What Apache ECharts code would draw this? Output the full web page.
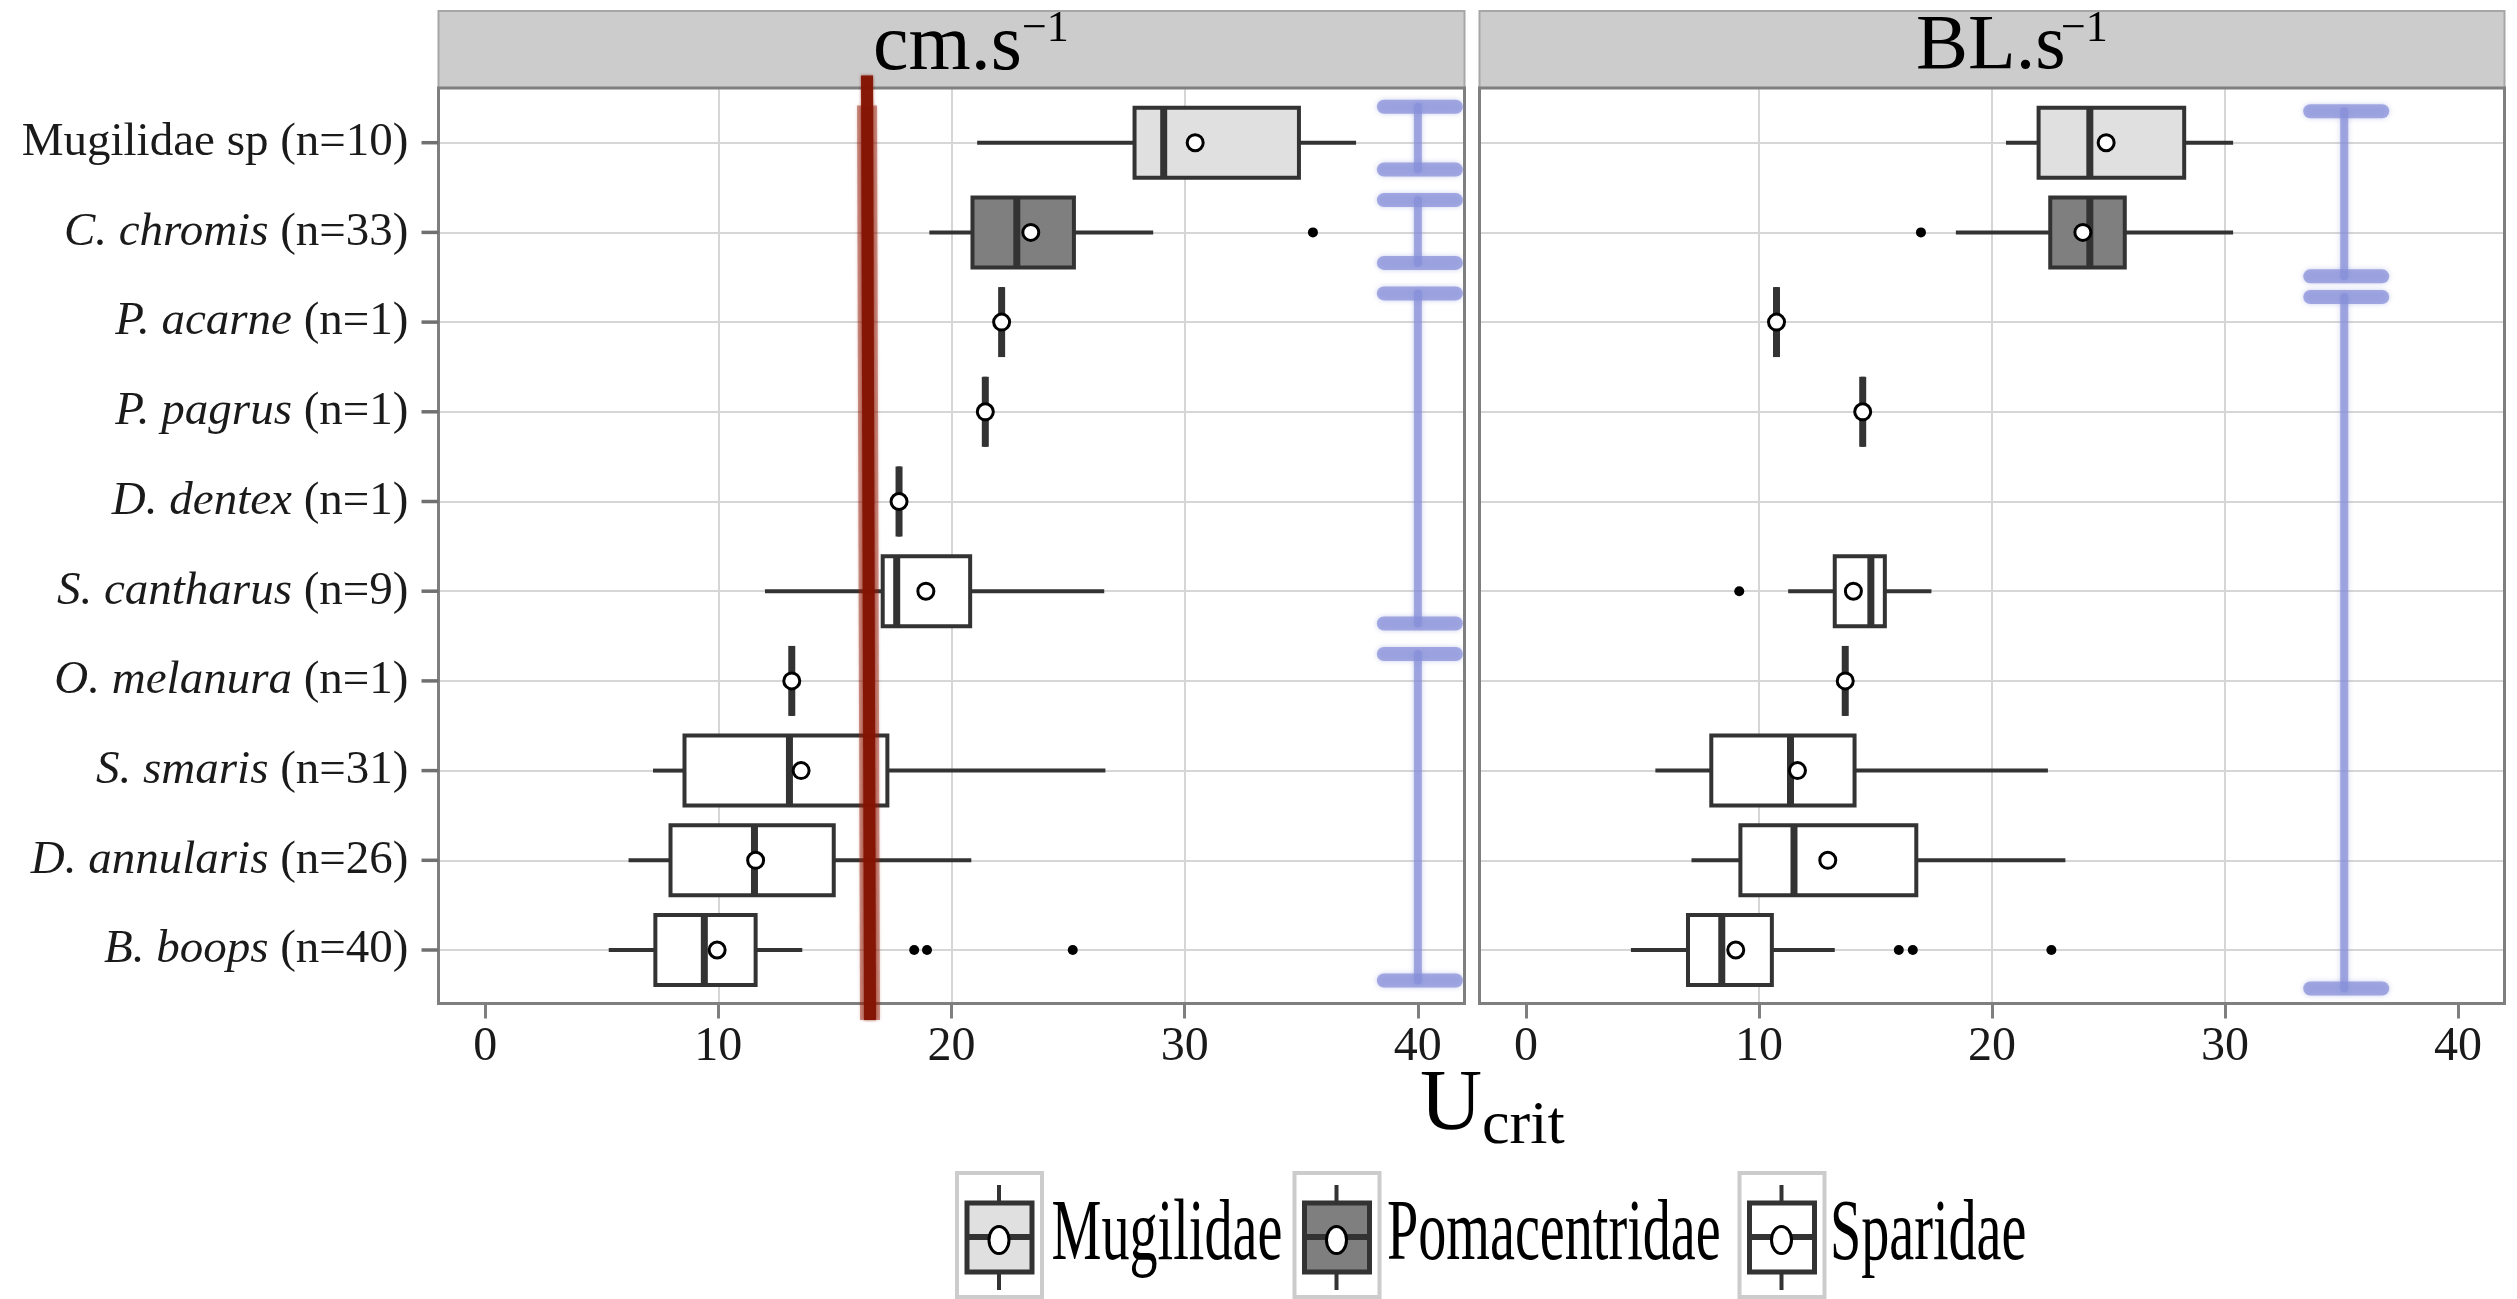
<!DOCTYPE html>
<html>
<head>
<meta charset="utf-8">
<script src="https://cdn.jsdelivr.net/npm/echarts@6/dist/echarts.min.js"></script>
<style>
    html, body { margin: 0; padding: 0; background: #fff; }
    #chart { width: 2517px; height: 1299px; }
</style>
</head>
<body>
<div id="chart"></div>
<script>
    // categories (top to bottom)
    const species = ['Mugilidae sp', 'C. chromis', 'P. acarne', 'P. pagrus', 'D. dentex',
        'S. cantharus', 'O. melanura', 'S. smaris', 'D. annularis', 'B. boops'];
    const sampleN = [10, 33, 1, 1, 1, 9, 1, 31, 26, 40];
    const italicName = [false, true, true, true, true, true, true, true, true, true];
    const familyOf = [0, 1, 2, 2, 2, 2, 2, 2, 2, 2];
    const families = ['Mugilidae', 'Pomacentridae', 'Sparidae'];
    const xTicks = [0, 10, 20, 30, 40];

    // [lower whisker, Q1, median, Q3, upper whisker, mean]
    const statsCm = [
        [21.1, 27.85, 29.1, 34.9, 37.35, 30.45],
        [19.05, 20.9, 22.8, 25.25, 28.65, 23.4],
        [22.15, 22.15, 22.15, 22.15, 22.15, 22.15],
        [21.45, 21.45, 21.45, 21.45, 21.45, 21.45],
        [17.75, 17.75, 17.75, 17.75, 17.75, 17.75],
        [12.0, 17.05, 17.65, 20.8, 26.55, 18.9],
        [13.15, 13.15, 13.15, 13.15, 13.15, 13.15],
        [7.2, 8.55, 13.05, 17.25, 26.6, 13.55],
        [6.15, 7.95, 11.55, 14.95, 20.85, 11.6],
        [5.3, 7.3, 9.4, 11.6, 13.6, 9.95]
    ];
    const statsBL = [
        [20.6, 22.0, 24.2, 28.25, 30.35, 24.9],
        [18.45, 22.5, 24.2, 25.7, 30.35, 23.9],
        [10.75, 10.75, 10.75, 10.75, 10.75, 10.75],
        [14.45, 14.45, 14.45, 14.45, 14.45, 14.45],
        null,
        [11.25, 13.25, 14.8, 15.4, 17.4, 14.05],
        [13.7, 13.7, 13.7, 13.7, 13.7, 13.7],
        [5.55, 7.95, 11.35, 14.1, 22.4, 11.65],
        [7.1, 9.2, 11.5, 16.75, 23.15, 12.95],
        [4.5, 6.95, 8.4, 10.55, 13.25, 9.0]
    ];
    // [value, category index]
    const outliersCm = [[35.5, 1], [18.4, 9], [18.95, 9], [25.2, 9]];
    const outliersBL = [[16.95, 1], [9.15, 5], [16.0, 9], [16.6, 9], [22.55, 9]];

    // reference line: [value, from row, to row]
    const refLineCm = [[16.42, -0.75, 9.78]];
    // homogeneous groups: [value, from row, to row]
    const groupsCm = [[40, -0.4, 0.3], [40, 0.64, 1.34], [40, 1.68, 5.36], [40, 5.7, 9.34]];
    const groupsBL = [[35.12, -0.35, 1.49], [35.12, 1.72, 9.43]];

    const fontSerif = 'Liberation Serif';
    const familyFill = ['#e0e0e0', '#7f7f7f', '#ffffff'];
    const boxLine = '#333333';
    const gridColor = '#d6d6d6';
    const borderColor = '#7f7f7f';
    const xMin = -2, xMax = 42;

    const panels = [
        {left: 438.5, width: 1026},
        {left: 1479.5, width: 1025}
    ];
    const frameTop = 88, frameHeight = 915.5;
    const dataTop = 142.7, dataHeight = 807.3;

    function boxData(stats) {
        const out = [];
        stats.forEach(function (s, i) {
            if (s) out.push([i].concat(s).concat([familyOf[i]]));
        });
        return out;
    }

    function rowGeom(api) {
        const y0 = api.coord([0, 0])[1];
        const step = api.coord([0, 1])[1] - y0;
        return {y0: y0, step: step};
    }

    function renderBox(params, api) {
        const cat = api.value(0);
        const g = rowGeom(api);
        const yc = g.y0 + g.step * cat;
        const h = g.step * 0.39;
        const X = function (v) { return api.coord([v, cat])[0]; };
        const lo = X(api.value(1)), q1 = X(api.value(2)), md = X(api.value(3));
        const q3 = X(api.value(4)), hi = X(api.value(5)), mn = X(api.value(6));
        const fill = familyFill[api.value(7)];
        return {
            type: 'group',
            children: [
                {type: 'line', shape: {x1: lo, y1: yc, x2: q1, y2: yc}, style: {stroke: boxLine, lineWidth: 4}},
                {type: 'line', shape: {x1: q3, y1: yc, x2: hi, y2: yc}, style: {stroke: boxLine, lineWidth: 4}},
                {type: 'rect', shape: {x: q1, y: yc - h, width: q3 - q1, height: 2 * h},
                    style: {fill: fill, stroke: boxLine, lineWidth: 4}},
                {type: 'line', shape: {x1: md, y1: yc - h, x2: md, y2: yc + h},
                    style: {stroke: boxLine, lineWidth: 7}},
                {type: 'circle', shape: {cx: mn, cy: yc, r: 8},
                    style: {fill: '#ffffff', stroke: '#000000', lineWidth: 3}}
            ]
        };
    }

    function renderRef(params, api) {
        const g = rowGeom(api);
        const x = api.coord([api.value(0), 0])[0];
        const ya = g.y0 + g.step * api.value(1), yb = g.y0 + g.step * api.value(2);
        return {
            type: 'group',
            children: [
                {type: 'line', shape: {x1: x - 1, y1: ya + 30, x2: x + 2, y2: yb},
                    style: {stroke: 'rgba(150,30,10,0.45)', lineWidth: 20, shadowBlur: 3, shadowColor: 'rgba(150,30,10,0.5)'}},
                {type: 'line', shape: {x1: x - 1, y1: ya, x2: x + 2, y2: yb},
                    style: {stroke: 'rgba(132,20,3,0.95)', lineWidth: 12, shadowBlur: 3, shadowColor: 'rgba(132,20,3,0.7)'}}
            ]
        };
    }

    function renderGroup(params, api) {
        const g = rowGeom(api);
        const x = api.coord([api.value(0), 0])[0];
        const ya = g.y0 + g.step * api.value(1);
        const yb = g.y0 + g.step * api.value(2);
        const st = {stroke: 'rgba(135,143,216,0.72)', lineCap: 'round',
            shadowBlur: 5, shadowColor: 'rgba(135,143,216,0.6)'};
        return {
            type: 'group',
            children: [
                {type: 'line', shape: {x1: x, y1: ya, x2: x, y2: yb}, style: Object.assign({lineWidth: 8}, st)},
                {type: 'line', shape: {x1: x - 34, y1: ya, x2: x + 38, y2: ya}, style: Object.assign({lineWidth: 14}, st)},
                {type: 'line', shape: {x1: x - 34, y1: yb, x2: x + 38, y2: yb}, style: Object.assign({lineWidth: 14}, st)}
            ]
        };
    }

    const grids = [], xAxes = [], yAxes = [];
    panels.forEach(function (p, k) {
        grids.push({left: p.left, top: frameTop, width: p.width, height: frameHeight, show: false});
        grids.push({left: p.left, top: dataTop, width: p.width, height: dataHeight, show: false});
        xAxes.push({
            gridIndex: 2 * k, type: 'value', min: xMin, max: xMax,
            axisLine: {show: false, onZero: false},
            axisTick: {show: true, length: 15, customValues: xTicks, lineStyle: {color: borderColor, width: 3}},
            axisLabel: {customValues: xTicks, margin: 20, fontFamily: fontSerif, fontSize: 48, color: '#1a1a1a'},
            splitLine: {show: true, showMinLine: false, showMaxLine: false, lineStyle: {color: gridColor, width: 2}}
        });
        xAxes.push({gridIndex: 2 * k + 1, type: 'value', min: xMin, max: xMax, show: false});
        yAxes.push({gridIndex: 2 * k, type: 'value', min: 0, max: 1, show: false});
        yAxes.push({
            gridIndex: 2 * k + 1, type: 'category', data: species, inverse: true, boundaryGap: false,
            position: 'left',
            axisLine: {show: false, onZero: false},
            axisTick: {show: false},
            axisLabel: {
                show: k === 0, interval: 0, margin: 30, color: '#1a1a1a',
                formatter: function (v, i) {
                    const nm = italicName[i] ? '{i|' + species[i] + '}' : '{r|' + species[i] + '}';
                    return nm + '{r| (n=' + sampleN[i] + ')}';
                },
                rich: {
                    i: {fontFamily: fontSerif, fontSize: 47, fontStyle: 'italic', color: '#1a1a1a'},
                    r: {fontFamily: fontSerif, fontSize: 47, color: '#1a1a1a'}
                }
            },
            splitLine: {show: true, interval: 0, lineStyle: {color: gridColor, width: 2}}
        });
    });

    const series = [
        {type: 'custom', name: 'cm', xAxisIndex: 1, yAxisIndex: 1, renderItem: renderBox,
            encode: {x: [1, 2, 3, 4, 5, 6], y: 0}, data: boxData(statsCm), z: 3},
        {type: 'custom', name: 'BL', xAxisIndex: 3, yAxisIndex: 3, renderItem: renderBox,
            encode: {x: [1, 2, 3, 4, 5, 6], y: 0}, data: boxData(statsBL), z: 3},
        {type: 'scatter', xAxisIndex: 1, yAxisIndex: 1, data: outliersCm, symbolSize: 10,
            itemStyle: {color: '#000', opacity: 1}, z: 3},
        {type: 'scatter', xAxisIndex: 3, yAxisIndex: 3, data: outliersBL, symbolSize: 10,
            itemStyle: {color: '#000', opacity: 1}, z: 3},
        {type: 'custom', xAxisIndex: 1, yAxisIndex: 1, renderItem: renderRef,
            encode: {x: 0, y: 1}, data: refLineCm, z: 4},
        {type: 'custom', xAxisIndex: 1, yAxisIndex: 1, renderItem: renderGroup,
            encode: {x: 0, y: 1}, data: groupsCm, z: 4},
        {type: 'custom', xAxisIndex: 3, yAxisIndex: 3, renderItem: renderGroup,
            encode: {x: 0, y: 1}, data: groupsBL, z: 4}
    ];

    // panel frames, strips, titles, legend
    const graphics = [];
    panels.forEach(function (p) {
        graphics.push({type: 'rect', z: 1, shape: {x: p.left, y: 11, width: p.width, height: frameTop - 11},
            style: {fill: '#cccccc', stroke: '#a6a6a6', lineWidth: 2}});
        graphics.push({type: 'rect', z: 1, shape: {x: p.left, y: frameTop, width: p.width, height: frameHeight},
            style: {fill: 'rgba(0,0,0,0)', stroke: borderColor, lineWidth: 3}});
    });
    function txt(x, y, text, size, extra) {
        return Object.assign({type: 'text', z: 5, x: x, y: y,
            style: {text: text, fontFamily: fontSerif, fontSize: size, fill: '#000', align: 'left', verticalAlign: 'middle'}}, extra || {});
    }
    graphics.push(txt(873, 48, 'cm.s', 80));
    graphics.push(txt(1022, 29, '\u22121', 44));
    graphics.push(txt(1916, 48, 'BL.s', 78));
    graphics.push(txt(2061, 29, '\u22121', 44));
    graphics.push(txt(1420, 1106, 'U', 86));
    graphics.push(txt(1482, 1127, 'crit', 62));

    const legendX = [957, 1294.5, 1739.5];
    const legendTextX = [1051.5, 1387, 1830];
    families.forEach(function (f, i) {
        const x = legendX[i], cx = x + 42;
        graphics.push({type: 'rect', z: 5, shape: {x: x, y: 1173, width: 85, height: 124},
            style: {fill: '#ffffff', stroke: '#cccccc', lineWidth: 4}});
        graphics.push({type: 'line', z: 5, shape: {x1: cx, y1: 1185, x2: cx, y2: 1290},
            style: {stroke: boxLine, lineWidth: 4}});
        graphics.push({type: 'rect', z: 6, shape: {x: x + 10, y: 1203, width: 65, height: 69},
            style: {fill: familyFill[i], stroke: boxLine, lineWidth: 5}});
        graphics.push({type: 'line', z: 6, shape: {x1: x + 10, y1: 1237, x2: x + 75, y2: 1237},
            style: {stroke: boxLine, lineWidth: 6}});
        graphics.push({type: 'ellipse', z: 7, shape: {cx: cx, cy: 1240, rx: 10, ry: 13.5},
            style: {fill: '#ffffff', stroke: '#000', lineWidth: 3}});
        graphics.push(txt(legendTextX[i], 1236, f, 86, {scaleX: 0.653}));
    });

    const chart = echarts.init(document.getElementById('chart'));
    chart.setOption({
        backgroundColor: '#ffffff',
        animation: false,
        grid: grids,
        xAxis: xAxes,
        yAxis: yAxes,
        series: series,
        graphic: graphics
    });

    // y-axis tick marks on the left panel edge, placed through the category axis
    species.forEach(function (s, i) {
        const p = chart.convertToPixel({xAxisIndex: 1, yAxisIndex: 1}, [xMin, i]);
        graphics.push({type: 'rect', z: 20, shape: {x: p[0] - 17, y: p[1] - 1.75, width: 17, height: 3.5},
            style: {fill: '#707070'}});
    });
    chart.setOption({graphic: graphics});

    window.addEventListener('resize', function () {
        chart.resize();
    });
</script>
</body>
</html>
